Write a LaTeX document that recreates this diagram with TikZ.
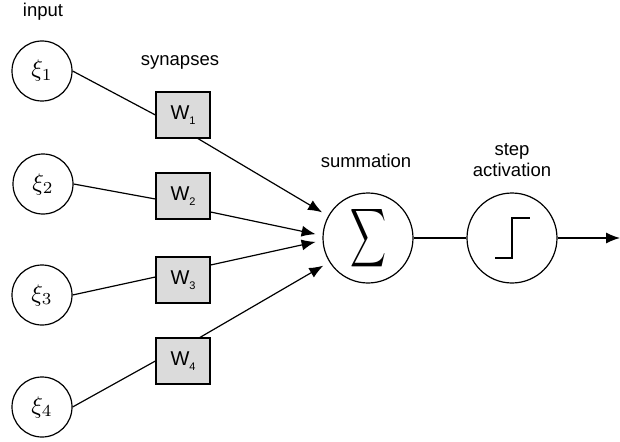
\documentclass[tikz,border=0pt]{standalone}
\usepackage{fontspec}
\setmainfont{Liberation Sans}
\usetikzlibrary{arrows.meta,calc}

\begin{document}
\begin{tikzpicture}[x=1pt,y=-1pt,
  line width=1.2pt,
  neuron/.style={draw,circle,minimum size=60pt,inner sep=0pt},
  bigunit/.style={draw,circle,minimum size=90pt,inner sep=0pt},
  weight/.style={draw,fill=black!14,minimum width=54pt,minimum height=46pt,
    inner sep=0pt,font=\fontsize{20}{20}\selectfont},
  caption/.style={font=\fontsize{18.5}{21}\selectfont,anchor=base,align=center},
  link/.style={line width=1.2pt},
  feed/.style={line width=1.2pt,-{Latex[length=14pt,width=11pt]},shorten >=7pt}]
\useasboundingbox (0,0) rectangle (620,441);

% input units
\newcommand{\xilabel}[1]{\scalebox{2.4}{$\xi_{#1}$}}
\node[neuron] (x1) at (42,71)  {\xilabel{1}};
\node[neuron] (x2) at (43,184) {\xilabel{2}};
\node[neuron] (x3) at (42,295) {\xilabel{3}};
\node[neuron] (x4) at (42,407) {\xilabel{4}};

% synaptic weights
\newcommand{\wlabel}[1]{W\raisebox{-5pt}{\fontsize{11}{11}\selectfont #1}}
\node[weight] (w1) at (183,115) {\wlabel{1}};
\node[weight] (w2) at (183,196) {\wlabel{2}};
\node[weight] (w3) at (183,280) {\wlabel{3}};
\node[weight] (w4) at (183,361) {\wlabel{4}};

% summation and activation
\node[bigunit] (sum) at (368,238) {\resizebox{36pt}{43pt}{$\displaystyle\sum$}};
\node[bigunit] (act) at (512,238) {};
\coordinate (out) at (620,238);

% captions
\node[caption] (lin)  at (43,17)  {input};
\node[caption] (lsyn) at (180,66) {synapses};
\node[caption] (lsum) at (366,167) {summation};
\node[caption] (lact) at (512,176) {step\\activation};

% inputs to weights
\draw[link] (x1.east) -- (w1.west);
\draw[link] (x2.east) -- ([yshift=-3pt]w2.west);
\draw[link] (x3.east) -- ([yshift=3pt]w3.west);
\draw[link] (x4.east) -- (w4.west);

% weights to summation
\draw[feed] ([xshift=15pt]w1.south) -- (sum.151);
\draw[feed] ([yshift=-16pt]w2.east) -- (sum.177);
\draw[feed] ([yshift=15pt]w3.east) -- (sum.183);
\draw[feed] ([xshift=17pt]w4.north) -- (sum.212);

% summation to activation to output
\draw[link] (sum) -- (act);
\draw[line width=1.2pt,-{Latex[length=14pt,width=11pt]}] (act) -- (out);

% step function glyph
\draw[line width=1.8pt] ($(act)+(-17,20)$) -- ($(act)+(0,20)$)
  -- ($(act)+(0,-20)$) -- ($(act)+(18,-20)$);
\end{tikzpicture}
\end{document}
